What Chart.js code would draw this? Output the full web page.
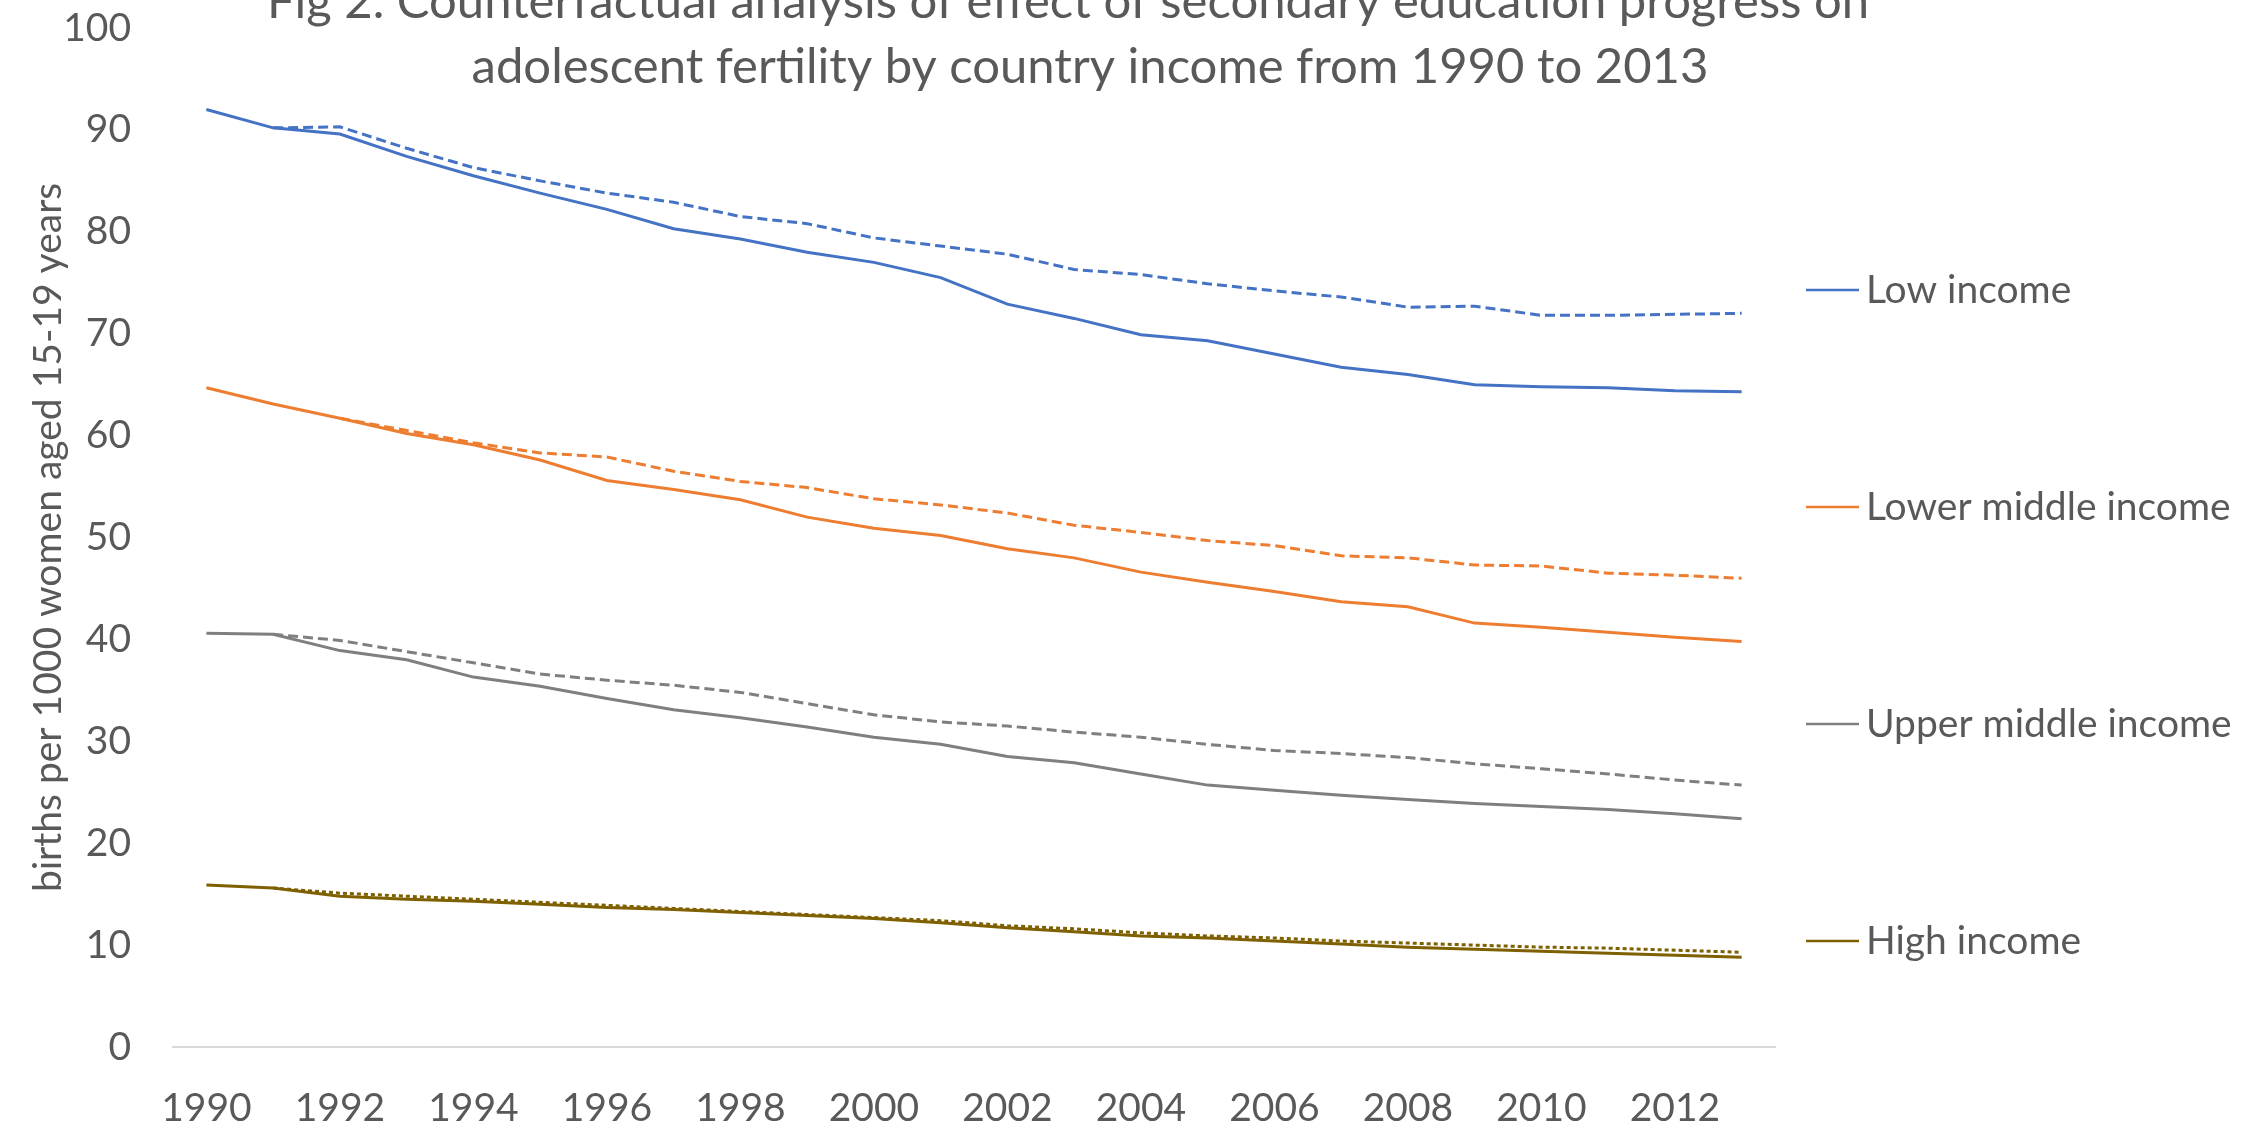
<!DOCTYPE html>
<html>
<head>
<meta charset="utf-8">
<title>Adolescent fertility by country income</title>
<script src="https://cdn.jsdelivr.net/npm/chart.js@4.4.1/dist/chart.umd.min.js"></script>
<style>
  html, body { margin: 0; padding: 0; background: #ffffff; }
  #wrap { width: 2267px; height: 1132px; }
</style>
</head>
<body>
<div id="wrap"><canvas id="chart" width="2267" height="1132"></canvas></div>
<script>
// Years on the category axis
const years = ['1990','1991','1992','1993','1994','1995','1996','1997','1998','1999','2000','2001',
               '2002','2003','2004','2005','2006','2007','2008','2009','2010','2011','2012','2013'];

// Observed adolescent fertility (births per 1000 women aged 15-19)
const lowIncome        = [92.0, 90.2, 89.6, 87.4, 85.5, 83.8, 82.2, 80.3, 79.3, 78.0, 77.0, 75.5,
                          72.9, 71.5, 69.9, 69.3, 68.0, 66.7, 66.0, 65.0, 64.8, 64.7, 64.4, 64.3];
const lowerMiddle      = [64.7, 63.1, 61.7, 60.2, 59.1, 57.6, 55.6, 54.7, 53.7, 52.0, 50.9, 50.2,
                          48.9, 48.0, 46.6, 45.6, 44.7, 43.7, 43.2, 41.6, 41.2, 40.7, 40.2, 39.8];
const upperMiddle      = [40.6, 40.5, 38.9, 38.0, 36.3, 35.4, 34.2, 33.1, 32.3, 31.4, 30.4, 29.7,
                          28.5, 27.9, 26.8, 25.7, 25.2, 24.7, 24.3, 23.9, 23.6, 23.3, 22.9, 22.4];
const highIncome       = [15.9, 15.6, 14.8, 14.5, 14.3, 14.0, 13.7, 13.5, 13.2, 12.9, 12.6, 12.2,
                          11.7, 11.3, 10.9, 10.7, 10.4, 10.1,  9.8,  9.6,  9.4,  9.2,  9.0,  8.8];

// Counterfactual: fertility without secondary education progress
const lowIncomeCf      = [null, 90.2, 90.3, 88.2, 86.3, 85.0, 83.8, 82.9, 81.5, 80.8, 79.4, 78.6,
                          77.8, 76.3, 75.8, 74.9, 74.2, 73.6, 72.6, 72.7, 71.8, 71.8, 71.9, 72.0];
const lowerMiddleCf    = [null, null, 61.7, 60.5, 59.3, 58.3, 57.9, 56.5, 55.5, 54.9, 53.8, 53.2,
                          52.4, 51.2, 50.5, 49.7, 49.2, 48.2, 48.0, 47.3, 47.2, 46.5, 46.3, 46.0];
const upperMiddleCf    = [null, 40.5, 39.9, 38.8, 37.7, 36.6, 36.0, 35.5, 34.8, 33.7, 32.6, 31.9,
                          31.5, 30.9, 30.4, 29.7, 29.1, 28.8, 28.4, 27.8, 27.3, 26.8, 26.2, 25.7];
const highIncomeCf     = [null, 15.6, 15.1, 14.8, 14.5, 14.2, 13.9, 13.6, 13.3, 13.0, 12.7, 12.4,
                          11.9, 11.6, 11.2, 10.9, 10.7, 10.4, 10.2, 10.0,  9.8,  9.7,  9.5,  9.3];

const groupNames  = ['Low income', 'Lower middle income', 'Upper middle income', 'High income'];
const titleLines  = ['Fig 2. Counterfactual analysis of effect of secondary education progress on',
                     'adolescent fertility by country income from 1990 to 2013'];
const yAxisTitle  = 'births per 1000 women aged 15-19 years';

const colors = ['#4472C4', '#ED7D31', '#7F7F7F', '#7F6000'];
const observed = [lowIncome, lowerMiddle, upperMiddle, highIncome];
const counterfactual = [lowIncomeCf, lowerMiddleCf, upperMiddleCf, highIncomeCf];
const dashes = [[10, 5], [10, 5], [10, 5], [4, 3]];

const FONT = 'Lato, "Open Sans", sans-serif';
const TEXT = '#595959';

const datasets = [];
groupNames.forEach((name, i) => {
  datasets.push({
    label: name,
    data: observed[i],
    borderColor: colors[i],
    borderWidth: 3,
    pointRadius: 0,
    tension: 0,
    order: 1,
    inKey: true
  });
});
groupNames.forEach((name, i) => {
  datasets.push({
    label: name + ' (counterfactual)',
    data: counterfactual[i],
    borderColor: colors[i],
    borderWidth: 3,
    borderDash: dashes[i],
    pointRadius: 0,
    tension: 0,
    order: 0,
    inKey: false
  });
});

// Two-line chart title
const titlePlugin = {
  id: 'figTitle',
  afterDraw(chart) {
    const ctx = chart.ctx;
    ctx.save();
    ctx.fillStyle = TEXT;
    ctx.font = '49px ' + FONT;
    ctx.textAlign = 'center';
    ctx.textBaseline = 'alphabetic';
    ctx.fillText(titleLines[0], 1068, 18);
    ctx.fillText(titleLines[1], 1090, 83);
    ctx.restore();
  }
};

// Key on the right: one row per income group, evenly spaced
const keyPlugin = {
  id: 'sideKey',
  afterDraw(chart) {
    const ctx = chart.ctx;
    const items = chart.data.datasets.filter(d => d.inKey);
    const x0 = chart.chartArea.right + 31;
    const top = 290, gap = 217;
    ctx.save();
    ctx.font = '39px ' + FONT;
    ctx.textBaseline = 'middle';
    ctx.textAlign = 'left';
    items.forEach((d, i) => {
      const y = top + i * gap;
      ctx.strokeStyle = d.borderColor;
      ctx.lineWidth = 2.5;
      ctx.beginPath();
      ctx.moveTo(x0, y);
      ctx.lineTo(x0 + 53, y);
      ctx.stroke();
      ctx.fillStyle = TEXT;
      ctx.fillText(d.label, x0 + 60, y);
    });
    ctx.restore();
  }
};

new Chart(document.getElementById('chart'), {
  type: 'line',
  data: { labels: years, datasets: datasets },
  options: {
    responsive: false,
    animation: false,
    events: [],
    layout: { padding: { top: 28, right: 492, left: 0, bottom: 0 } },
    plugins: {
      legend: { display: false },
      tooltip: { enabled: false },
      title: { display: false }
    },
    scales: {
      x: {
        type: 'category',
        offset: true,
        afterFit(scale) { scale.height = 85; },
        grid: { display: false, drawTicks: false },
        border: { display: true, color: '#d9d9d9', width: 2 },
        ticks: {
          autoSkip: false,
          maxRotation: 0,
          padding: 38,
          color: TEXT,
          font: { family: FONT, size: 39 },
          callback: function (value, index) {
            return index % 2 === 0 ? this.getLabelForValue(value) : '';
          }
        }
      },
      y: {
        min: 0,
        max: 100,
        afterFit(scale) {
          scale.width = 173;
          scale.paddingTop = 0;
          scale.paddingBottom = 0;
        },
        grid: { display: false, drawTicks: false },
        border: { display: false },
        ticks: {
          stepSize: 10,
          padding: 42,
          color: TEXT,
          font: { family: FONT, size: 39 }
        },
        title: {
          display: true,
          text: yAxisTitle,
          color: TEXT,
          font: { family: FONT, size: 39 },
          padding: { top: 25, bottom: 0 }
        }
      }
    }
  },
  plugins: [titlePlugin, keyPlugin]
});
</script>
</body>
</html>
